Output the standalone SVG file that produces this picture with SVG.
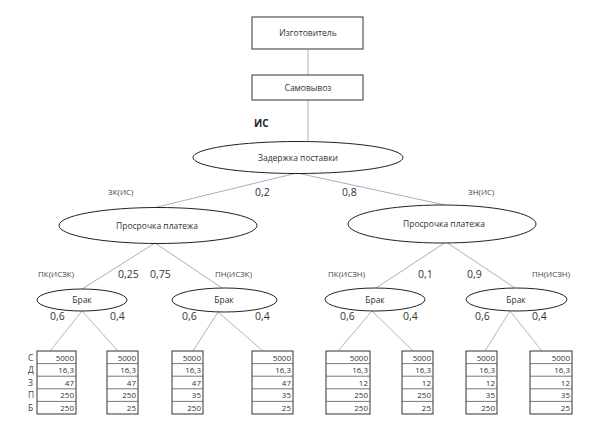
<svg xmlns="http://www.w3.org/2000/svg" width="602" height="440" viewBox="0 0 602 440">
<style>
.bg{fill:#fff}
.box{fill:#fff;stroke:#333;stroke-width:1}
.ell{fill:#fff;stroke:#222;stroke-width:1}
.c1{stroke:#9fb2c6;stroke-width:1;fill:none}
.c2{stroke:#b3b3b3;stroke-width:1;fill:none}
.t{font-family:"Open Sans","Liberation Sans",sans-serif;font-size:8.5px;fill:#333;text-anchor:middle}
.p{font-family:"Open Sans","Liberation Sans",sans-serif;font-size:10.5px;fill:#333}
.s{font-family:"Open Sans","Liberation Sans",sans-serif;font-size:8px;fill:#444}
.b{font-family:"Open Sans","Liberation Sans",sans-serif;font-size:10px;font-weight:bold;fill:#222}
.cell{fill:#fff;stroke:#333;stroke-width:1}
.row{stroke:#555;stroke-width:0.8}
.v{font-family:"Open Sans","Liberation Sans",sans-serif;font-size:8px;fill:#333;text-anchor:end}
.rl{font-family:"Open Sans","Liberation Sans",sans-serif;font-size:8.5px;fill:#444}
</style>
<rect class="bg" x="0" y="0" width="602" height="440"/>

<g id="connectors">
<line class="c2" x1="308" y1="49" x2="308" y2="75"/>
<line class="c2" x1="308" y1="100" x2="308" y2="142"/>
<line class="c1" x1="297" y1="173" x2="157" y2="207"/>
<line class="c1" x1="297" y1="173" x2="445" y2="205"/>
<line class="c1" x1="155" y1="243" x2="82" y2="289"/>
<line class="c1" x1="155" y1="243" x2="222" y2="288"/>
<line class="c1" x1="446" y1="242" x2="376" y2="288"/>
<line class="c1" x1="446" y1="242" x2="515" y2="288"/>
<line class="c2" x1="82" y1="311" x2="50" y2="351"/>
<line class="c2" x1="82" y1="311" x2="118" y2="351"/>
<line class="c2" x1="218" y1="312" x2="193" y2="351"/>
<line class="c2" x1="218" y1="312" x2="263" y2="351"/>
<line class="c2" x1="372" y1="311" x2="338" y2="351"/>
<line class="c2" x1="372" y1="311" x2="413" y2="351"/>
<line class="c2" x1="510" y1="311" x2="485" y2="351"/>
<line class="c2" x1="510" y1="311" x2="542" y2="351"/>
</g>

<g id="n-izgotovitel">
<rect class="box" x="252" y="17" width="111" height="32"/>
<text class="t" x="308" y="36">Изготовитель</text>
</g>
<g id="n-samovyvoz">
<rect class="box" x="252" y="75" width="111" height="25"/>
<text class="t" x="308" y="91">Самовывоз</text>
</g>
<text class="b" x="254" y="127">ИС</text>

<g id="n-zaderzhka">
<ellipse class="ell" cx="298" cy="157.5" rx="105" ry="16"/>
<text class="t" x="298" y="160.5">Задержка поставки</text>
</g>
<g id="n-prosrochka-l">
<ellipse class="ell" cx="158" cy="225.5" rx="99" ry="18"/>
<text class="t" x="157" y="228.5">Просрочка платежа</text>
</g>
<g id="n-prosrochka-r">
<ellipse class="ell" cx="442" cy="224" rx="94" ry="19"/>
<text class="t" x="444" y="227">Просрочка платежа</text>
</g>

<g id="n-brak-1"><ellipse class="ell" cx="82" cy="300" rx="45" ry="11"/><text class="t" x="82" y="303">Брак</text></g>
<g id="n-brak-2"><ellipse class="ell" cx="224.5" cy="300" rx="52.5" ry="12"/><text class="t" x="224" y="303">Брак</text></g>
<g id="n-brak-3"><ellipse class="ell" cx="375" cy="299.5" rx="50" ry="11.5"/><text class="t" x="375" y="302.5">Брак</text></g>
<g id="n-brak-4"><ellipse class="ell" cx="516.5" cy="299.5" rx="50.5" ry="11.5"/><text class="t" x="516" y="302.5">Брак</text></g>

<g id="labels">
<text class="s" x="108" y="195">ЗК(ИС)</text>
<text class="p" x="255" y="196">0,2</text>
<text class="p" x="342" y="196">0,8</text>
<text class="s" x="468" y="195">ЗН(ИС)</text>
<text class="s" x="38" y="277">ПК(ИСЗК)</text>
<text class="p" x="118" y="278">0,25</text>
<text class="p" x="150" y="278">0,75</text>
<text class="s" x="215" y="277">ПН(ИСЗК)</text>
<text class="s" x="328" y="277">ПК(ИСЗН)</text>
<text class="p" x="418" y="278">0,1</text>
<text class="p" x="467" y="278">0,9</text>
<text class="s" x="532" y="277">ПН(ИСЗН)</text>
<text class="p" x="50" y="320">0,6</text>
<text class="p" x="110" y="320">0,4</text>
<text class="p" x="182" y="320">0,6</text>
<text class="p" x="255" y="320">0,4</text>
<text class="p" x="340" y="320">0,6</text>
<text class="p" x="403" y="320">0,4</text>
<text class="p" x="475" y="320">0,6</text>
<text class="p" x="532" y="320">0,4</text>
</g>

<g id="row-labels">
<text class="rl" x="28" y="360.5">С</text>
<text class="rl" x="28" y="373">Д</text>
<text class="rl" x="28" y="385.5">З</text>
<text class="rl" x="28" y="398">П</text>
<text class="rl" x="28" y="410.5">Б</text>
</g>

<g id="table-1">
<rect class="cell" x="37" y="351" width="39" height="63"/>
<line class="row" x1="37" y1="363.6" x2="76" y2="363.6"/><line class="row" x1="37" y1="376.2" x2="76" y2="376.2"/><line class="row" x1="37" y1="388.8" x2="76" y2="388.8"/><line class="row" x1="37" y1="401.4" x2="76" y2="401.4"/>
<text class="v" x="74" y="360.5">5000</text><text class="v" x="74" y="373">16,3</text><text class="v" x="74" y="385.5">47</text><text class="v" x="74" y="398">250</text><text class="v" x="74" y="410.5">250</text>
</g>
<g id="table-2">
<rect class="cell" x="107" y="351" width="31" height="63"/>
<line class="row" x1="107" y1="363.6" x2="138" y2="363.6"/><line class="row" x1="107" y1="376.2" x2="138" y2="376.2"/><line class="row" x1="107" y1="388.8" x2="138" y2="388.8"/><line class="row" x1="107" y1="401.4" x2="138" y2="401.4"/>
<text class="v" x="136" y="360.5">5000</text><text class="v" x="136" y="373">16,3</text><text class="v" x="136" y="385.5">47</text><text class="v" x="136" y="398">250</text><text class="v" x="136" y="410.5">25</text>
</g>
<g id="table-3">
<rect class="cell" x="172" y="351" width="31" height="63"/>
<line class="row" x1="172" y1="363.6" x2="203" y2="363.6"/><line class="row" x1="172" y1="376.2" x2="203" y2="376.2"/><line class="row" x1="172" y1="388.8" x2="203" y2="388.8"/><line class="row" x1="172" y1="401.4" x2="203" y2="401.4"/>
<text class="v" x="201" y="360.5">5000</text><text class="v" x="201" y="373">16,3</text><text class="v" x="201" y="385.5">47</text><text class="v" x="201" y="398">35</text><text class="v" x="201" y="410.5">250</text>
</g>
<g id="table-4">
<rect class="cell" x="252" y="351" width="41" height="63"/>
<line class="row" x1="252" y1="363.6" x2="293" y2="363.6"/><line class="row" x1="252" y1="376.2" x2="293" y2="376.2"/><line class="row" x1="252" y1="388.8" x2="293" y2="388.8"/><line class="row" x1="252" y1="401.4" x2="293" y2="401.4"/>
<text class="v" x="291" y="360.5">5000</text><text class="v" x="291" y="373">16,3</text><text class="v" x="291" y="385.5">47</text><text class="v" x="291" y="398">35</text><text class="v" x="291" y="410.5">25</text>
</g>
<g id="table-5">
<rect class="cell" x="326" y="351" width="44" height="63"/>
<line class="row" x1="326" y1="363.6" x2="370" y2="363.6"/><line class="row" x1="326" y1="376.2" x2="370" y2="376.2"/><line class="row" x1="326" y1="388.8" x2="370" y2="388.8"/><line class="row" x1="326" y1="401.4" x2="370" y2="401.4"/>
<text class="v" x="368" y="360.5">5000</text><text class="v" x="368" y="373">16,3</text><text class="v" x="368" y="385.5">12</text><text class="v" x="368" y="398">250</text><text class="v" x="368" y="410.5">250</text>
</g>
<g id="table-6">
<rect class="cell" x="402" y="351" width="31" height="63"/>
<line class="row" x1="402" y1="363.6" x2="433" y2="363.6"/><line class="row" x1="402" y1="376.2" x2="433" y2="376.2"/><line class="row" x1="402" y1="388.8" x2="433" y2="388.8"/><line class="row" x1="402" y1="401.4" x2="433" y2="401.4"/>
<text class="v" x="431" y="360.5">5000</text><text class="v" x="431" y="373">16,3</text><text class="v" x="431" y="385.5">12</text><text class="v" x="431" y="398">250</text><text class="v" x="431" y="410.5">25</text>
</g>
<g id="table-7">
<rect class="cell" x="466" y="351" width="31" height="63"/>
<line class="row" x1="466" y1="363.6" x2="497" y2="363.6"/><line class="row" x1="466" y1="376.2" x2="497" y2="376.2"/><line class="row" x1="466" y1="388.8" x2="497" y2="388.8"/><line class="row" x1="466" y1="401.4" x2="497" y2="401.4"/>
<text class="v" x="495" y="360.5">5000</text><text class="v" x="495" y="373">16,3</text><text class="v" x="495" y="385.5">12</text><text class="v" x="495" y="398">35</text><text class="v" x="495" y="410.5">250</text>
</g>
<g id="table-8">
<rect class="cell" x="530" y="351" width="42" height="63"/>
<line class="row" x1="530" y1="363.6" x2="572" y2="363.6"/><line class="row" x1="530" y1="376.2" x2="572" y2="376.2"/><line class="row" x1="530" y1="388.8" x2="572" y2="388.8"/><line class="row" x1="530" y1="401.4" x2="572" y2="401.4"/>
<text class="v" x="570" y="360.5">5000</text><text class="v" x="570" y="373">16,3</text><text class="v" x="570" y="385.5">12</text><text class="v" x="570" y="398">35</text><text class="v" x="570" y="410.5">25</text>
</g>
</svg>
